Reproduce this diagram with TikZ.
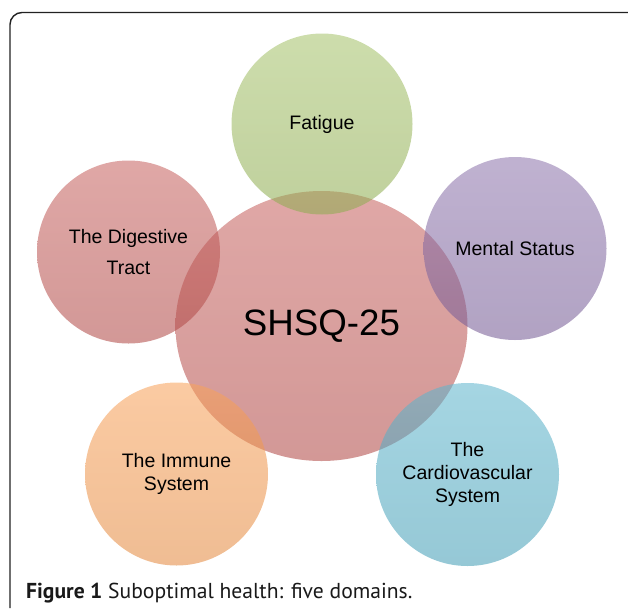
\documentclass[tikz,border=0pt]{standalone}
\usepackage{fontspec}
\setmainfont{Liberation Sans}
\newfontfamily\capfont{PT Sans}
\usetikzlibrary{shapes.geometric}
\definecolor{cgreen}{HTML}{9BBB59}
\definecolor{cred}{HTML}{C0504D}
\definecolor{cpurple}{HTML}{8064A2}
\definecolor{caqua}{HTML}{4BACC6}
\definecolor{corange}{HTML}{F79646}
\definecolor{framecol}{HTML}{222222}
\begin{document}
\begin{tikzpicture}[x=1pt,y=-1pt,
  bubble/.style={circle, minimum size=183pt, inner sep=0pt, align=center,
    fill opacity=0.57, text opacity=1, draw=none,
    font=\fontsize{19.5}{23}\selectfont},
  shadeof/.style={top color=#1!88!white, bottom color=#1!92!black},
  hub/.style={ellipse, minimum width=292pt, minimum height=270pt, inner sep=0pt,
    fill opacity=0.57, text opacity=1, draw=none,
    font=\fontsize{36.7}{40}\selectfont}]
\useasboundingbox (0,0) rectangle (628,608);
% frame
\coordinate (fbl) at (10,608);
\coordinate (ftl) at (10,12.5);
\coordinate (ftr) at (628,12.5);
\draw[framecol, line width=1.4pt, rounded corners=12pt] (fbl) -- (ftl) -- (ftr);
% central
\node[hub, shadeof=cred] (hub) at (321.5,326) {SHSQ-25};
% satellites
\node[bubble, shadeof=cgreen, minimum size=181pt] (fat) at (322,124) {\raisebox{3pt}{Fatigue}};
\node[bubble, shadeof=cred] (dig) at (128.5,252) {The Digestive\\[8.5pt]Tract};
\node[bubble, shadeof=cpurple] (men) at (515,248.5) {Mental Status};
\node[bubble, shadeof=corange] (imm) at (176.5,474) {The Immune\\System};
\node[bubble, shadeof=caqua] (car) at (467.5,474.5) {The\\Cardiovascular\\System};
% caption
\node[anchor=base west, inner sep=0pt, text=black!90,
  font=\capfont\fontsize{21.6}{26}\selectfont] (cap) at (26,598)
  {\textbf{Figure 1} Suboptimal health: five domains.};
\end{tikzpicture}
\end{document}
